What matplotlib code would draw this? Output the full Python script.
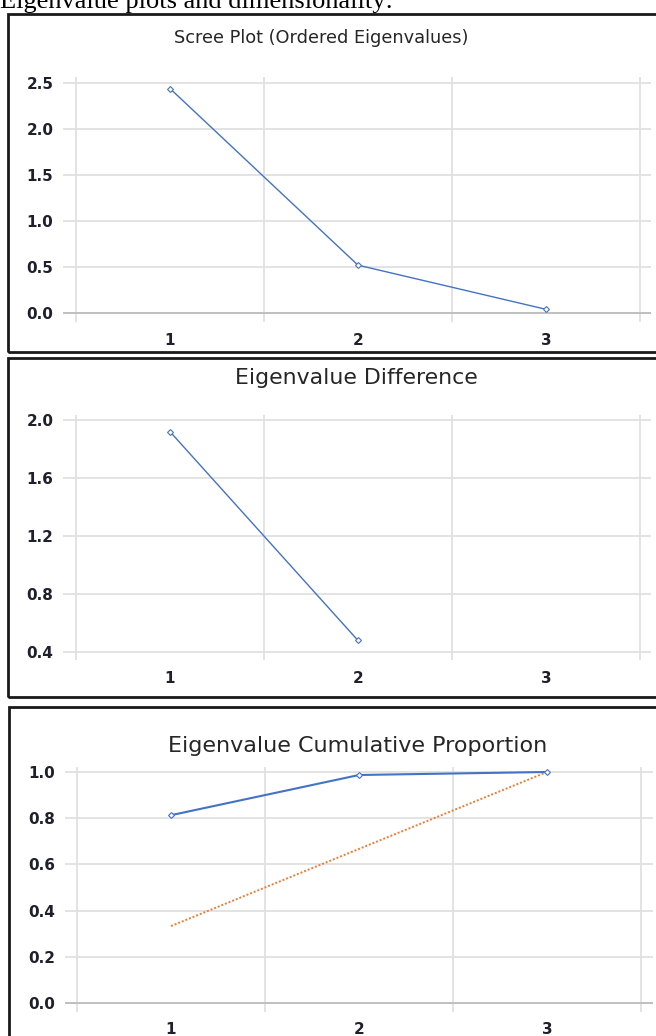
import matplotlib
matplotlib.use("Agg")
import matplotlib.pyplot as plt
from matplotlib.patches import Rectangle

# ---- data ----
components = [1, 2, 3]
eigenvalues = [2.44, 0.52, 0.04]
diff_x = [1, 2]
eigen_diff = [1.92, 0.48]
cum_proportion = [0.813, 0.987, 1.0]
equal_proportion = [0.333, 0.667, 1.0]

scree_yticks = [0.0, 0.5, 1.0, 1.5, 2.0, 2.5]
diff_yticks = [0.4, 0.8, 1.2, 1.6, 2.0]
cum_yticks = [0.0, 0.2, 0.4, 0.6, 0.8, 1.0]

W, H = 656, 1036
fig = plt.figure(figsize=(W / 100, H / 100), dpi=100)
fig.patch.set_facecolor("white")


def axes_px(left, top, right, bottom):
    return fig.add_axes([left / W, 1 - bottom / H, (right - left) / W, (bottom - top) / H])


def frame_px(left, top, right, bottom):
    r = Rectangle((left / W, 1 - bottom / H), (right - left) / W, (bottom - top) / H,
                  transform=fig.transFigure, fill=False, edgecolor="#1a1a1a",
                  linewidth=2.0, zorder=10, clip_on=False)
    fig.add_artist(r)


BLUE = "#4472c4"
ORANGE = "#ed7d31"
GRID = "#e0e0e0"
LABEL = "#20202c"
TITLE = "#262626"


def style(ax, yticks, ylim, xlim, zero_line=None, ypad=7, xpad=8, fmt="{:.1f}"):
    ax.set_xlim(*xlim)
    ax.set_ylim(*ylim)
    ax.set_xticks(components)
    ax.set_xticklabels([str(c) for c in components])
    ax.set_xticks([0.5, 1.5, 2.5, 3.5], minor=True)
    ax.set_yticks(yticks)
    ax.set_yticklabels([fmt.format(v) for v in yticks])
    for s in ax.spines.values():
        s.set_visible(False)
    ax.tick_params(which="both", length=0)
    ax.tick_params(axis="y", pad=ypad, labelsize=11, labelcolor=LABEL)
    ax.tick_params(axis="x", pad=xpad, labelsize=11, labelcolor=LABEL)
    for lab in ax.get_xticklabels() + ax.get_yticklabels():
        lab.set_fontweight("bold")
        lab.set_family("DejaVu Sans")
    ax.grid(which="minor", axis="x", color=GRID, linewidth=1.3)
    ax.grid(which="major", axis="y", color=GRID, linewidth=1.3)
    ax.grid(which="major", axis="x", visible=False)
    ax.set_axisbelow(True)
    if zero_line is not None:
        ax.axhline(zero_line, color="#c0c0c0", linewidth=1.4, zorder=1)


# ---- top text (cut off in the reference as well) ----
fig.text(0 / W, 1 - 8 / H, "Eigenvalue plots and dimensionality:", family="Liberation Serif",
         fontsize=19, color="black", ha="left", va="baseline")

# ---- Panel 1 ----
frame_px(8, 14, 700, 352)
ax1 = axes_px(63, 77, 651, 322)
style(ax1, scree_yticks, (-0.098, 2.565), (0.431, 3.559), zero_line=0.0)
ax1.plot(components, eigenvalues, color=BLUE, linewidth=1.0, marker="D", markersize=3,
         markerfacecolor="white", markeredgecolor=BLUE, markeredgewidth=0.8, zorder=3)
fig.text(321 / W, 1 - 38 / H, "Scree Plot (Ordered Eigenvalues)", family="DejaVu Sans",
         fontsize=12.8, color=TITLE, ha="center", va="center")

# ---- Panel 2 ----
frame_px(8, 358, 700, 697)
ax2 = axes_px(63, 415, 651, 660)
style(ax2, diff_yticks, (0.345, 2.0345), (0.431, 3.559))
ax2.plot(diff_x, eigen_diff, color=BLUE, linewidth=1.0, marker="D", markersize=3,
         markerfacecolor="white", markeredgecolor=BLUE, markeredgewidth=0.8, zorder=3)
fig.text(356 / W, 1 - 378 / H, "Eigenvalue Difference", family="DejaVu Sans",
         fontsize=15.8, color=TITLE, ha="center", va="center")

# ---- Panel 3 ----
frame_px(9, 707, 700, 1100)
ax3 = axes_px(65, 767, 653, 1012)
style(ax3, cum_yticks, (-0.039, 1.0216), (0.436, 3.564), zero_line=0.0, xpad=7)
ax3.plot(components, cum_proportion, color=BLUE, linewidth=1.5, marker="D", markersize=3,
         markerfacecolor="white", markeredgecolor=BLUE, markeredgewidth=0.8, zorder=4)
ax3.plot(components, equal_proportion, color=ORANGE, linewidth=1.4, linestyle=(0, (1, 1)),
         zorder=3)
fig.text(358 / W, 1 - 746 / H, "Eigenvalue Cumulative Proportion", family="DejaVu Sans",
         fontsize=16, color=TITLE, ha="center", va="center")

fig.savefig("out.png", dpi=100, facecolor="white")
